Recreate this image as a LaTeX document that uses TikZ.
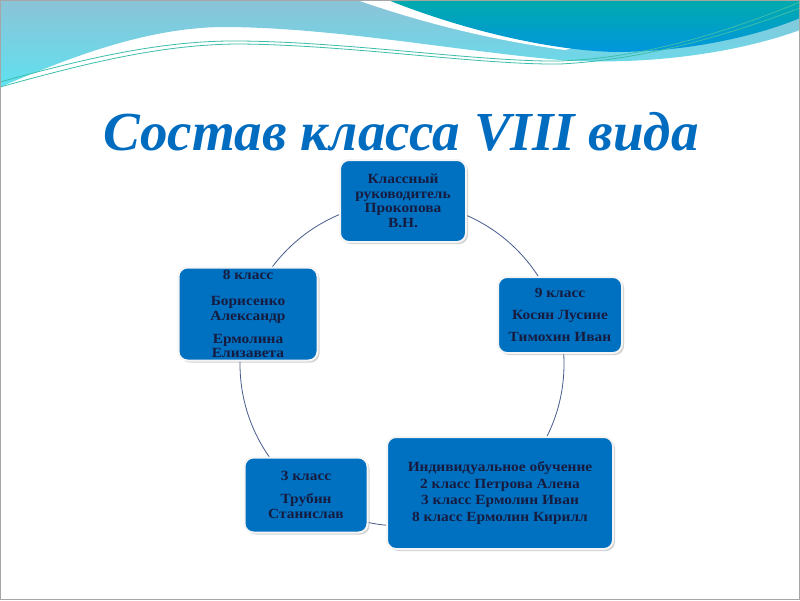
\documentclass[tikz,border=0pt]{standalone}
\usepackage{fontspec}
\setmainfont{Liberation Serif}
\newfontfamily\boxfont[FakeStretch=1.1]{Liberation Serif}
\usetikzlibrary{shadows}
\definecolor{boxblue}{RGB}{0,112,192}
\definecolor{txtnavy}{RGB}{22,28,64}
\definecolor{titleblue}{RGB}{0,108,192}
\definecolor{ringcol}{RGB}{70,90,140}
\definecolor{lbtop}{RGB}{140,195,215}
\definecolor{lbbot}{RGB}{95,225,240}
\definecolor{tealtop}{RGB}{0,170,172}
\definecolor{tealbot}{RGB}{0,150,222}
\definecolor{wavecol}{RGB}{60,190,170}
\tikzset{
  slidebox/.style={rounded corners=9pt, fill=boxblue, draw=white!92!gray, line width=2pt,
    drop shadow={shadow xshift=2pt, shadow yshift=-2pt, opacity=0.35, fill=gray},
    text=txtnavy, font=\boxfont\bfseries\fontsize{14}{14.5}\selectfont, align=center, inner sep=0pt},
  ring/.style={draw=ringcol, line width=0.8pt},
  wave/.style={draw=wavecol, line width=0.8pt}
}
\begin{document}
\begin{tikzpicture}[x=1pt,y=-1pt]
\useasboundingbox (0,0) rectangle (800,600);
\fill[white] (0,0) rectangle (800,600);
% top decoration
\shade[top color=lbtop, bottom color=lbbot] (0,0) -- (0,87) .. controls (60,62) and (140,28) .. (222,27) .. controls (330,27) and (450,50) .. (560,60) .. controls (650,66) and (740,52) .. (800,30) -- (800,0) -- cycle;
\fill[white] (357,0) .. controls (420,22) and (490,40) .. (565,50) -- (600,40) -- (420,0) -- cycle;
\shade[top color=tealtop, bottom color=tealbot] (388,0) .. controls (450,25) and (540,50) .. (615,52) .. controls (690,52) and (760,35) .. (800,18) -- (800,0) -- cycle;
\draw[wave] (0,82) .. controls (80,60) and (160,40) .. (240,41) .. controls (350,42) and (480,62) .. (560,61) .. controls (640,58) and (720,35) .. (800,2);
\draw[wave] (0,87) .. controls (80,65) and (160,44) .. (240,44) .. controls (350,45) and (480,65) .. (560,64) .. controls (640,60) and (720,38) .. (800,8);
\draw[gray!70, line width=1pt] (0.5,0.5) rectangle (799.5,599.5);
% title
\node[font=\fontsize{55}{58}\selectfont\bfseries\itshape, text=titleblue, anchor=base, inner sep=0pt] (title) at (401,150) {Состав класса VIII вида};
% ring
\coordinate (ctr) at (402,364);
\draw[ring] (ctr) circle (162);
% nodes
\node[slidebox, minimum width=126pt, minimum height=82pt] (n1) at (403,201) {Классный\\руководитель\\Прокопова\\В.Н.};
\node[slidebox, minimum width=124pt, minimum height=76pt] (n2) at (560,315) {9 класс\\[7.5pt]Косян Лусине\\[7.5pt]Тимохин Иван};
\node[slidebox, minimum width=226pt, minimum height=112pt] (n3) at (500,493) {Индивидуальное обучение\\[2.2pt]2 класс Петрова Алена\\[2.2pt]3 класс Ермолин Иван\\[2.2pt]8 класс Ермолин Кирилл};
\node[slidebox, minimum width=123pt, minimum height=75pt] (n4) at (306,495) {3 класс\\[8.5pt]Трубин\\Станислав};
\node[slidebox, minimum width=139pt, minimum height=93pt] (n5) at (248,314) {8 класс\\[11.5pt]Борисенко\\Александр\\[8.5pt]Ермолина\\Елизавета};
\end{tikzpicture}
\end{document}
